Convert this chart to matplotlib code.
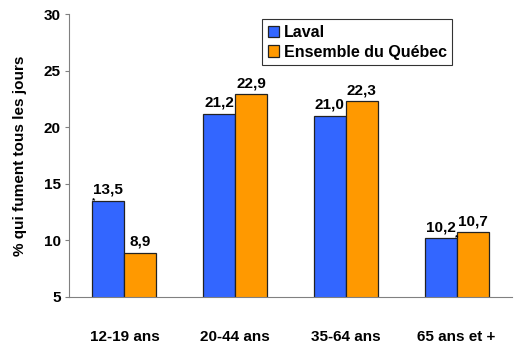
import numpy as np
import matplotlib.pyplot as plt

plt.rcParams['font.family'] = ['Liberation Sans', 'DejaVu Sans']
plt.rcParams['font.weight'] = 'bold'

groupes = ["12-19 ans", "20-44 ans", "35-64 ans", "65 ans et +"]
laval = [13.5, 21.2, 21.0, 10.2]
quebec = [8.9, 22.9, 22.3, 10.7]
etiquettes_laval = ["13,5", "21,2", "21,0", "10,2"]
etiquettes_quebec = ["8,9", "22,9", "22,3", "10,7"]

bleu = "#3366FF"
orange = "#FF9900"

fig = plt.figure(figsize=(5.16, 3.45), dpi=100)
ax = fig.add_axes([69 / 516, 48 / 345, 443 / 516, 283 / 345])

x = np.arange(len(groupes))
larg = 0.29
ax.bar(x - larg / 2, laval, larg, color=bleu, edgecolor="#222222",
       linewidth=0.9, label="Laval")
ax.bar(x + larg / 2, quebec, larg, color=orange, edgecolor="#222222",
       linewidth=0.9, label="Ensemble du Québec")

ax.set_xlim(-0.5, len(groupes) - 0.5)
ax.set_ylim(5, 30)
ax.set_yticks([5, 10, 15, 20, 25, 30])

for xi, v, t in zip(x, laval, etiquettes_laval):
    ax.text(xi - larg / 2, v + 0.35, t, ha="center", va="bottom", fontsize=11, fontweight="bold")
for xi, v, t in zip(x, quebec, etiquettes_quebec):
    ax.text(xi + larg / 2, v + 0.35, t, ha="center", va="bottom", fontsize=11, fontweight="bold")

# astérisques (différence significative)
ax.text(x[0] - larg, laval[0], "*", ha="left", va="center", fontsize=6)
ax.text(x[3], laval[3], "*", ha="center", va="center", fontsize=6)

ax.spines["top"].set_visible(False)
ax.spines["right"].set_visible(False)
ax.spines["left"].set_color("#808080")
ax.spines["bottom"].set_color("#808080")
ax.tick_params(axis="y", length=3, color="#808080", labelsize=11, pad=3)
ax.tick_params(axis="x", length=0, labelsize=11, pad=24)
ax.set_xticks(x)
ax.set_xticklabels(groupes, fontweight="bold")
for lab in ax.get_yticklabels():
    lab.set_fontweight("bold")

ax.set_ylabel("% qui fument tous les jours", fontsize=11, fontweight="bold", labelpad=12)

leg = ax.legend(loc="upper left", bbox_to_anchor=(185 / 443, 1.01), frameon=True, fancybox=False,
                edgecolor="black", fontsize=11.5, handlelength=0.7, handleheight=0.7,
                handletextpad=0.3, borderpad=0.35, labelspacing=0.3)
leg.get_frame().set_linewidth(0.8)
for t in leg.get_texts():
    t.set_fontweight("bold")

fig.savefig("out.png", dpi=100)
